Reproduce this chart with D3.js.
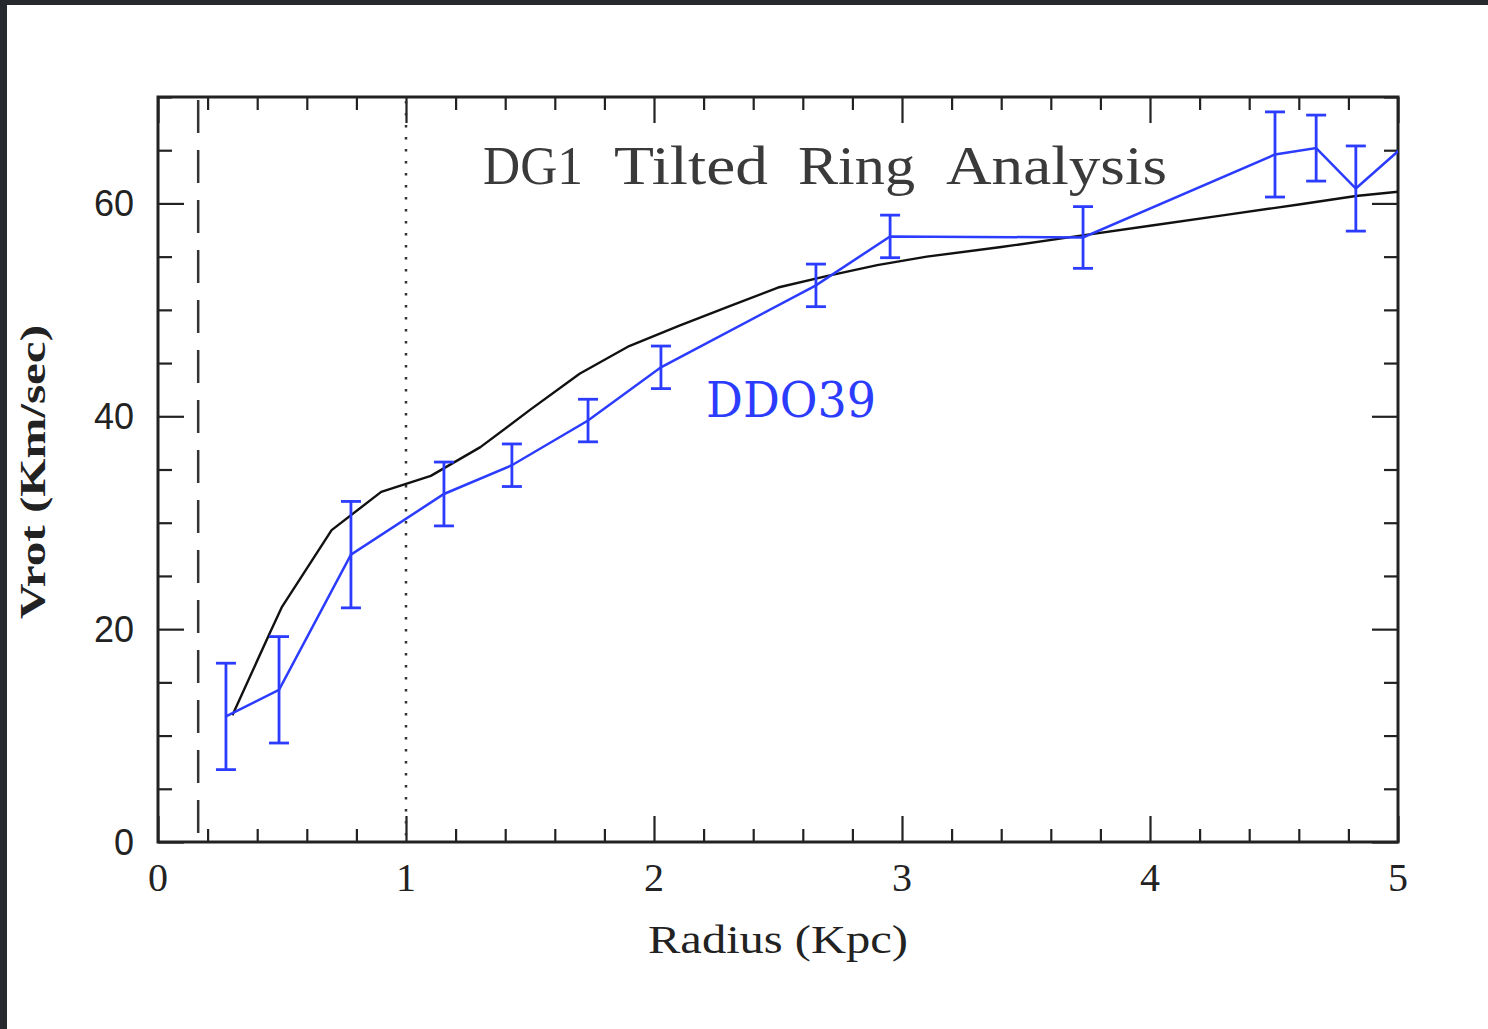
<!DOCTYPE html>
<html>
<head>
<meta charset="UTF-8">
<title>DG1 Tilted Ring Analysis</title>
<script src="https://cdn.jsdelivr.net/npm/d3@7"></script>
<style>
  html, body { margin: 0; padding: 0; background: #262a2e; }
  svg { display: block; }
</style>
</head>
<body>
<script>
// observed rotation curve (DDO39), radius in Kpc, Vrot in km/s, +- error
const obsRadius = [0.274, 0.488, 0.778, 1.153, 1.427, 1.734, 2.028, 2.653, 2.952, 3.73, 4.504, 4.67, 4.83, 5.15];
const obsVrot   = [11.8, 14.3, 27.0, 32.7, 35.4, 39.6, 44.6, 52.3, 56.9, 56.8, 64.6, 65.2, 61.4, 68.0];
const obsErr    = [5.0, 5.0, 5.0, 3.0, 2.0, 2.0, 2.0, 2.0, 2.0, 2.9, 4.0, 3.1, 4.0, 0];

// model curve (black)
const modelRadius = [0.30, 0.45, 0.50, 0.70, 0.90, 1.10, 1.30, 1.50, 1.70, 1.90, 2.10, 2.30, 2.50, 2.70, 2.90, 3.10, 3.40, 3.70, 4.00, 4.30, 4.60, 4.83, 5.00];
const modelVrot   = [11.9, 19.6, 22.1, 29.3, 32.9, 34.4, 37.1, 40.6, 44.0, 46.6, 48.5, 50.3, 52.1, 53.2, 54.2, 55.0, 55.9, 56.9, 57.9, 58.9, 59.9, 60.7, 61.1];

const xMajor = [0, 1, 2, 3, 4, 5];
const yMajor = [0, 20, 40, 60];
const innerRadius = 0.162;   // dashed line
const coreRadius = 1.0;      // dotted line

const titleWords = ['DG1', 'Tilted', 'Ring', 'Analysis'];

const W = 1488, H = 1029;
const m = { left: 158, top: 97, right: 1398, bottom: 842 };

const x = d3.scaleLinear().domain([0, 5]).range([m.left, m.right]);
const y = d3.scaleLinear().domain([0, 70]).range([m.bottom, m.top]);

const svg = d3.select('body').append('svg')
    .attr('width', W)
    .attr('height', H);

svg.append('rect').attr('width', W).attr('height', H).attr('fill', '#262a2e');
svg.append('rect').attr('x', 7).attr('y', 5).attr('width', W - 7).attr('height', H - 5).attr('fill', '#fff');

svg.append('clipPath').attr('id', 'plot')
    .append('rect')
    .attr('x', m.left).attr('y', m.top)
    .attr('width', m.right - m.left).attr('height', m.bottom - m.top);

const ink = '#222';

// ticks, all pointing inwards
const xMinor = d3.range(0, 5.001, 0.2).filter(v => Math.abs(v - Math.round(v)) > 1e-6);
const yMinor = d3.range(0, 70.001, 5).filter(v => v % 20 !== 0);

const tickStyle = g => {
    g.select('.domain').remove();
    g.selectAll('line').attr('stroke', ink).attr('stroke-width', 2.2);
    g.selectAll('text').remove();
};

const axBottom = svg.append('g').attr('transform', `translate(0,${m.bottom})`);
axBottom.append('g').call(d3.axisBottom(x).tickValues(xMajor).tickSize(-26)).call(tickStyle);
axBottom.append('g').call(d3.axisBottom(x).tickValues(xMinor).tickSize(-13)).call(tickStyle);

const axTop = svg.append('g').attr('transform', `translate(0,${m.top})`);
axTop.append('g').call(d3.axisTop(x).tickValues(xMajor).tickSize(-26)).call(tickStyle);
axTop.append('g').call(d3.axisTop(x).tickValues(xMinor).tickSize(-13)).call(tickStyle);

const axLeft = svg.append('g').attr('transform', `translate(${m.left},0)`);
axLeft.append('g').call(d3.axisLeft(y).tickValues(yMajor).tickSize(-26)).call(tickStyle);
axLeft.append('g').call(d3.axisLeft(y).tickValues(yMinor).tickSize(-14)).call(tickStyle);

const axRight = svg.append('g').attr('transform', `translate(${m.right},0)`);
axRight.append('g').call(d3.axisRight(y).tickValues(yMajor).tickSize(-26)).call(tickStyle);
axRight.append('g').call(d3.axisRight(y).tickValues(yMinor).tickSize(-14)).call(tickStyle);

// frame
svg.append('rect')
    .attr('x', m.left).attr('y', m.top)
    .attr('width', m.right - m.left).attr('height', m.bottom - m.top)
    .attr('fill', 'none').attr('stroke', ink).attr('stroke-width', 3);

// tick labels
svg.append('g').selectAll('text').data(xMajor).join('text')
    .attr('x', d => x(d)).attr('y', m.bottom + 49)
    .attr('text-anchor', 'middle')
    .attr('font-family', 'Liberation Serif, serif')
    .attr('font-size', 40).attr('fill', ink)
    .text(d => d);

svg.append('g').selectAll('text').data(yMajor).join('text')
    .attr('x', m.left - 24).attr('y', d => y(d) + 13)
    .attr('text-anchor', 'end')
    .attr('font-family', 'Liberation Sans, sans-serif')
    .attr('font-size', 36).attr('fill', ink)
    .text(d => d);

// axis titles
svg.append('text')
    .attr('x', (648 + 908) / 2).attr('y', 953)
    .attr('text-anchor', 'middle')
    .attr('font-family', 'Liberation Serif, serif')
    .attr('font-size', 39).attr('fill', ink)
    .attr('textLength', 260).attr('lengthAdjust', 'spacingAndGlyphs')
    .text('Radius (Kpc)');

svg.append('text')
    .attr('transform', 'translate(45,472) rotate(-90)')
    .attr('text-anchor', 'middle')
    .attr('font-family', 'Liberation Serif, serif')
    .attr('font-weight', 'bold')
    .attr('font-size', 36).attr('fill', ink)
    .attr('textLength', 294).attr('lengthAdjust', 'spacingAndGlyphs')
    .text('Vrot (Km/sec)');

// reference lines
svg.append('line')
    .attr('x1', x(innerRadius)).attr('x2', x(innerRadius))
    .attr('y1', m.top + 3).attr('y2', m.bottom)
    .attr('stroke', '#333').attr('stroke-width', 2.5)
    .attr('stroke-dasharray', '33 17');

svg.append('line')
    .attr('x1', x(coreRadius)).attr('x2', x(coreRadius))
    .attr('y1', m.top + 4).attr('y2', m.bottom)
    .attr('stroke', '#333').attr('stroke-width', 2.5)
    .attr('stroke-dasharray', '2.5 9.5');

const plot = svg.append('g').attr('clip-path', 'url(#plot)');

// model curve
const model = modelRadius.map((r, i) => [r, modelVrot[i]]);
plot.append('path')
    .datum(model)
    .attr('fill', 'none')
    .attr('stroke', '#111')
    .attr('stroke-width', 2.4)
    .attr('stroke-linejoin', 'round')
    .attr('d', d3.line().x(d => x(d[0])).y(d => y(d[1])));

// observed curve with error bars
const blue = '#2b3cff';
const obs = obsRadius.map((r, i) => ({ r, v: obsVrot[i], e: obsErr[i] }));

plot.append('path')
    .datum(obs)
    .attr('fill', 'none')
    .attr('stroke', blue)
    .attr('stroke-width', 2.5)
    .attr('d', d3.line().x(d => x(d.r)).y(d => y(d.v)));

const bars = plot.append('g')
    .attr('stroke', blue).attr('stroke-width', 2.8)
    .selectAll('g').data(obs.filter(d => d.e > 0)).join('g');

bars.append('line')
    .attr('x1', d => x(d.r)).attr('x2', d => x(d.r))
    .attr('y1', d => y(d.v + d.e)).attr('y2', d => y(d.v - d.e));
bars.append('line')
    .attr('x1', d => x(d.r) - 10).attr('x2', d => x(d.r) + 10)
    .attr('y1', d => y(d.v + d.e)).attr('y2', d => y(d.v + d.e));
bars.append('line')
    .attr('x1', d => x(d.r) - 10).attr('x2', d => x(d.r) + 10)
    .attr('y1', d => y(d.v - d.e)).attr('y2', d => y(d.v - d.e));

// title, word by word (wide gaps between words like the original)
const wordBox = [[483, 100], [614, 154], [798, 117], [946, 221]];
svg.append('g').selectAll('text').data(titleWords).join('text')
    .attr('x', (d, i) => wordBox[i][0]).attr('y', 184)
    .attr('font-family', 'Liberation Serif, serif')
    .attr('font-size', 54).attr('fill', '#3a3a3a')
    .attr('textLength', (d, i) => wordBox[i][1]).attr('lengthAdjust', 'spacingAndGlyphs')
    .text(d => d);

svg.append('text')
    .attr('x', 706).attr('y', 417)
    .attr('font-family', 'DejaVu Serif, serif')
    .attr('font-size', 48).attr('fill', blue)
    .attr('textLength', 170).attr('lengthAdjust', 'spacingAndGlyphs')
    .text('DDO39');
</script>
</body>
</html>
